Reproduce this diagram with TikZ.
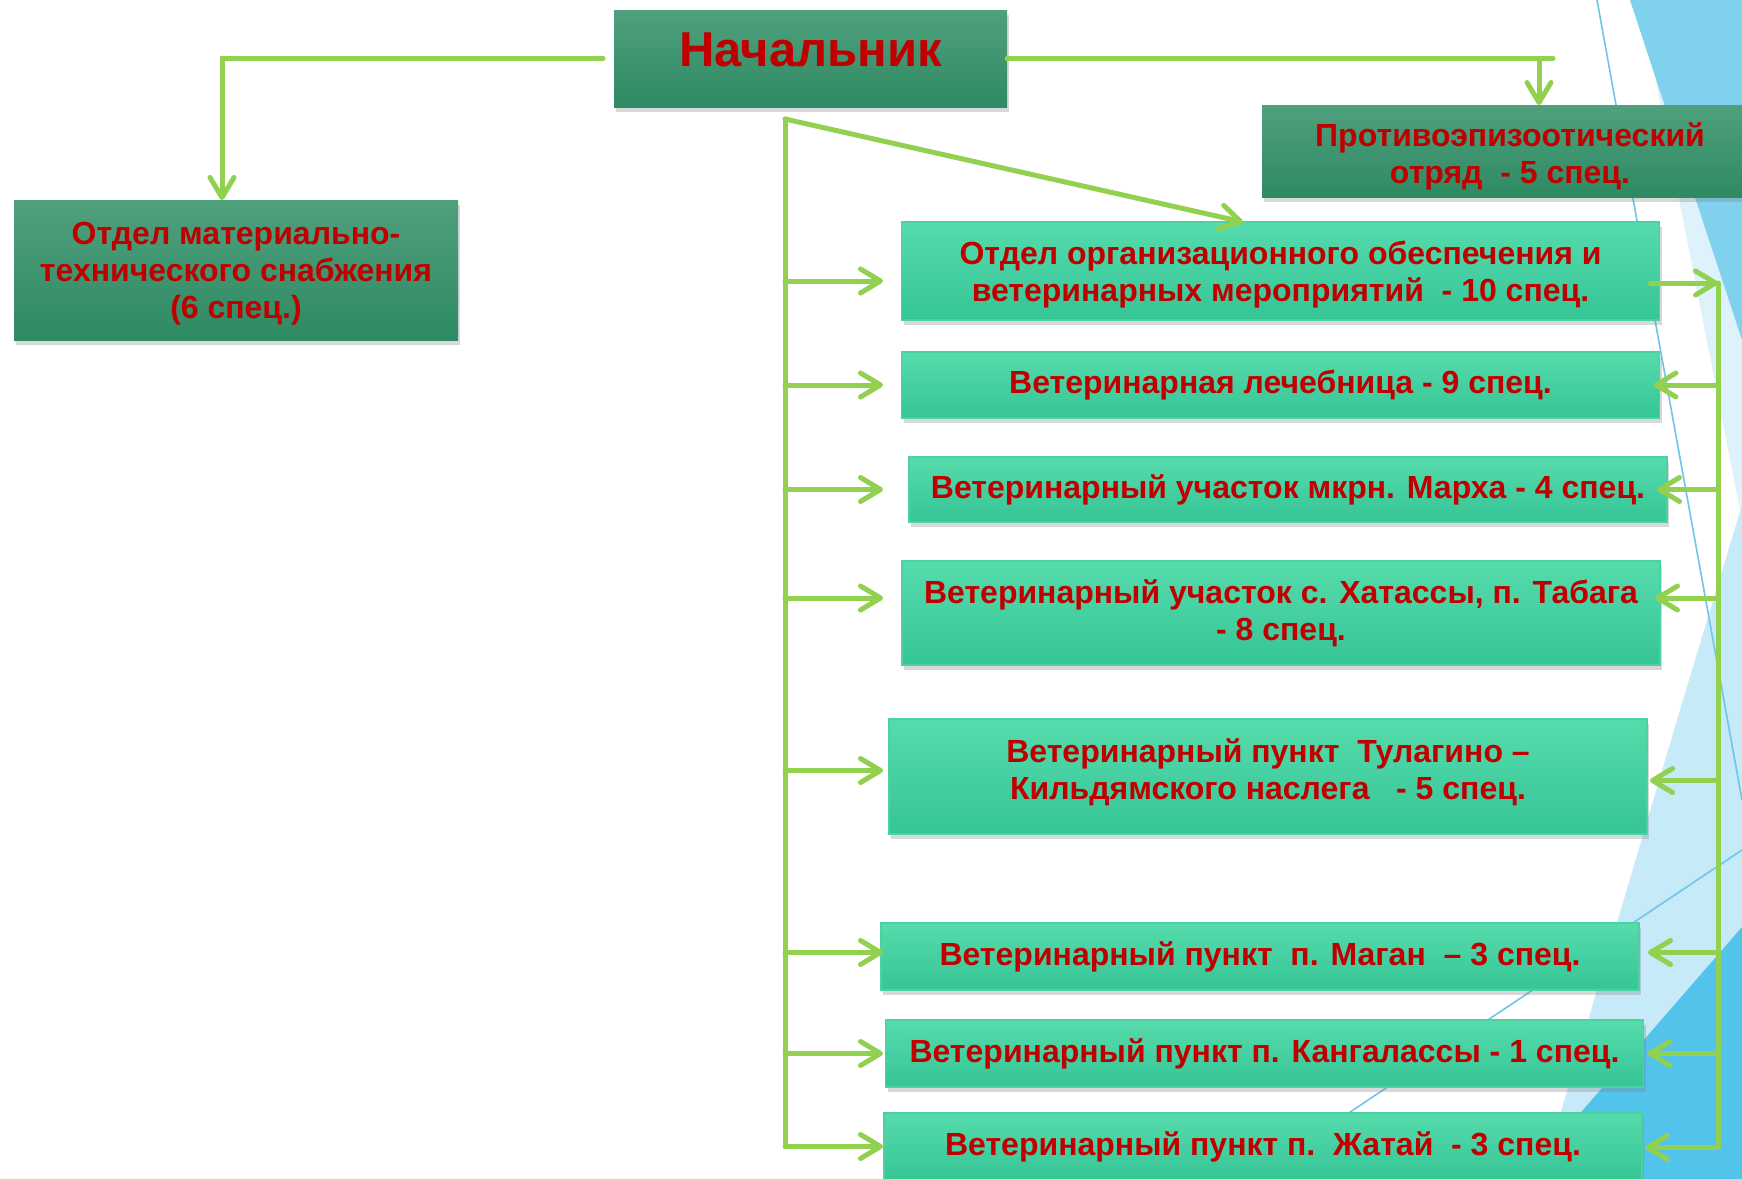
\documentclass[tikz,border=0pt]{standalone}
\usepackage{fontspec}
\setmainfont{Liberation Sans}
\usetikzlibrary{arrows.meta, positioning, shadows}

\definecolor{linkgreen}{RGB}{146,208,80}
\definecolor{bossTop}{RGB}{80,160,126}
\definecolor{bossBot}{RGB}{46,138,98}
\definecolor{unitTop}{RGB}{86,219,172}
\definecolor{unitBot}{RGB}{54,197,150}
\definecolor{unitEdge}{RGB}{76,210,160}
\definecolor{labelRed}{RGB}{192,0,0}
\definecolor{skyDark}{RGB}{82,195,234}
\definecolor{skyMid}{RGB}{127,209,238}
\definecolor{skyLight}{RGB}{198,234,247}
\definecolor{skyPale}{RGB}{221,242,250}
\definecolor{skyLine}{RGB}{110,198,234}

% invisible struts to nudge text inside a box
\newcommand{\padtop}[1]{\rule{0pt}{#1}}
\newcommand{\padbot}[1]{\rule[-#1]{0pt}{0pt}}

\tikzset{
  box/.style={rectangle, inner sep=0pt, outer sep=0pt, align=center, text=labelRed,
    font=\bfseries\fontsize{16}{18.5}\selectfont,
    drop shadow={shadow xshift=1pt, shadow yshift=-2.5pt, opacity=0.3}},
  boss/.style={box, top color=bossTop, bottom color=bossBot},
  unit/.style={box, top color=unitTop, bottom color=unitBot, draw=unitEdge, line width=0.6pt, minimum width=379pt},
  link/.style={draw=linkgreen, line width=2.5pt, line cap=round},
  arr/.style={link, -{Straight Barb[length=10pt, width=12pt, round]}},
}

\begin{document}
\begin{tikzpicture}[x=0.5pt, y=-0.5pt]
    % Page and background triangles
    \useasboundingbox (0,0) rectangle (1742,1179);
    \fill[white] (0,0) rectangle (1742,1179);
    \fill[skyPale] (1640,0) -- (1742,0) -- (1742,520) -- cycle;
    \fill[skyMid] (1630,0) -- (1742,0) -- (1742,340) -- cycle;
    \fill[skyLight] (1742,505) -- (1683,700) -- (1541,1179) -- (1742,1179) -- cycle;
    \fill[skyDark] (1742,927) -- (1523,1179) -- (1742,1179) -- cycle;
    \draw[skyLine, line width=0.8pt] (1597,0) -- (1742,800);
    \draw[skyLine, line width=0.8pt] (1742,850) -- (1250,1179);

    % Head and upper boxes
    \node[boss, minimum width=196.5pt, minimum height=48.5pt, text depth=9pt, font=\bfseries\fontsize{24.5}{28}\selectfont] (nach) at (810.5,58.5) {Начальник};
    \node[boss, minimum width=222pt, minimum height=70pt] (mts) at (236,270) {\padtop{15.1pt}Отдел материально-\\технического снабжения\\(6 спец.)};
    \node[boss, minimum width=248pt, minimum height=46pt] (prot) at (1510,151) {\padtop{17.3pt}Противоэпизоотический\\отряд\ \ - 5 спец.};

    % Units
    \node[unit, minimum height=49pt] (org) at (1280.5,271) {\padtop{15.7pt}Отдел организационного обеспечения и\\ветеринарных мероприятий\ \ - 10 спец.};
    \node[unit, minimum height=33pt] (lech) at (1280.5,385) {Ветеринарная лечебница - 9 спец.};
    \node[unit, minimum height=32.5pt] (marha) at (1288,489.5) {Ветеринарный участок мкрн. Марха - 4 спец.};
    \node[unit, minimum height=52pt] (hat) at (1281,613) {Ветеринарный участок с. Хатассы, п. Табага\\- 8 спец.};
    \node[unit, minimum height=57.5pt] (tul) at (1268,776.5) {Ветеринарный пункт\ \ Тулагино –\\Кильдямского наслега\ \ \ - 5 спец.\padbot{7.8pt}};
    \node[unit, minimum height=33.5pt] (magan) at (1260,956.5) {Ветеринарный пункт\ \ п. Маган\ \ – 3 спец.};
    \node[unit, minimum height=33.5pt] (kang) at (1264.5,1053.5) {Ветеринарный пункт п. Кангалассы - 1 спец.};
    \node[unit, minimum height=33.5pt] (zhat) at (1263,1146.5) {Ветеринарный пункт п.\ \ Жатай\ \ - 3 спец.};

    \coordinate (ltrunk) at (785,119);
    \coordinate (rtrunk) at (1718,283);
    \coordinate (ltip) at (883,0);
    \coordinate (rdrop) at ([xshift=14.5pt]prot.north);

    % From the head
    \draw[arr] ([xshift=-5.5pt]nach.west) -| ([xshift=-7pt]mts.north);
    \draw[link] (nach.east) -- ([xshift=7pt]nach.east -| rdrop);
    \draw[arr] (nach.east -| rdrop) -- (rdrop);
    \draw[arr] (ltrunk) -- ([xshift=-18.75pt]org.north);

    % Left trunk
    \draw[link] (ltrunk) -- (ltrunk |- zhat.west);
    \foreach \b/\dy in {org/-5pt, lech/0pt, marha/0pt, hat/7.5pt, tul/3pt, magan/2pt, kang/0pt, zhat/0pt}
      \draw[arr] ([yshift=\dy]ltrunk |- \b.west) -- ([yshift=\dy]ltip |- \b.west);

    % Right trunk
    \draw[link] (rtrunk) -- (rtrunk |- zhat.east);
    \draw[arr] ([xshift=-4.5pt, yshift=-6pt]org.east) -- (rtrunk);
    \foreach \b/\dx/\dy in {lech/-3pt/0pt, marha/-5pt/0pt, hat/-2.5pt/7.5pt, tul/1.5pt/-2pt, magan/4.5pt/2pt, kang/2pt/0pt, zhat/1.5pt/-0.5pt}
      \draw[arr] ([yshift=\dy]rtrunk |- \b.east) -- ([xshift=\dx, yshift=\dy]\b.east);
\end{tikzpicture}
\end{document}
